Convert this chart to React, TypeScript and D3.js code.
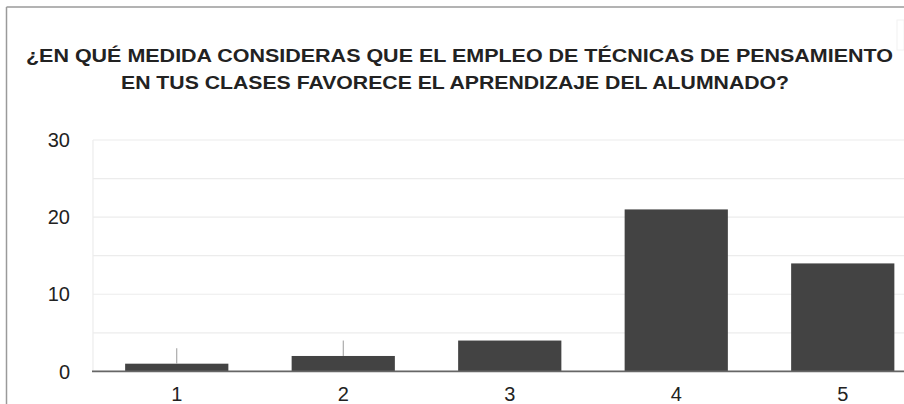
import React from "react";
import * as d3 from "d3";

const categories = ["1", "2", "3", "4", "5"];
const values = [1, 2, 4, 21, 14];
const errorTop: (number | null)[] = [3, 4, null, null, null];
const yTicks = [0, 10, 20, 30];
const gridTicks = [0, 5, 10, 15, 20, 25, 30];
const titleLines = [
  "¿EN QUÉ MEDIDA CONSIDERAS QUE EL EMPLEO DE TÉCNICAS DE PENSAMIENTO",
  "EN TUS CLASES FAVORECE EL APRENDIZAJE DEL ALUMNADO?",
];

export default function App() {
  const W = 904;
  const H = 404;
  const x = d3
    .scaleBand<string>()
    .domain(categories)
    .range([93.5, 926])
    .paddingInner(0.38)
    .paddingOuter(0.19);
  const y = d3.scaleLinear().domain([0, 30]).range([371.4, 140]);
  const font = "'Liberation Sans', Arial, Helvetica, sans-serif";

  return (
    <>
      <style>{`body{margin:0}`}</style>
      <svg width={W} height={H} style={{ display: "block", background: "#fff" }}>
        {/* frame */}
        <line x1={6.5} x2={W} y1={7} y2={7} stroke="#9a9a9a" strokeWidth={1.5} />
        <line x1={6.5} x2={6.5} y1={7} y2={H} stroke="#9a9a9a" strokeWidth={1.5} />
        <rect x={897} y={20} width={7} height={30} fill="none" stroke="#f2f2f2" strokeWidth={1} />

        {/* title */}
        <text
          x={26}
          y={61.7}
          textLength={867}
          lengthAdjust="spacingAndGlyphs"
          fontFamily={font}
          fontWeight="bold"
          fontSize={17.6}
          fill="#222"
        >
          {titleLines[0]}
        </text>
        <text
          x={121}
          y={89.3}
          textLength={668}
          lengthAdjust="spacingAndGlyphs"
          fontFamily={font}
          fontWeight="bold"
          fontSize={17.6}
          fill="#222"
        >
          {titleLines[1]}
        </text>

        {/* gridlines */}
        {gridTicks.map((t) => (
          <line
            key={"g" + t}
            x1={93}
            x2={W}
            y1={y(t)}
            y2={y(t)}
            stroke="#ececec"
            strokeWidth={1.2}
          />
        ))}
        <line x1={93} x2={93} y1={y(30)} y2={y(0)} stroke="#ececec" strokeWidth={1.2} />

        {/* y tick labels */}
        {yTicks.map((t) => (
          <text
            key={"y" + t}
            x={70}
            y={y(t)}
            dy="0.36em"
            textAnchor="end"
            fontFamily={font}
            fontSize={20}
            fill="#222"
          >
            {t}
          </text>
        ))}

        {/* bars */}
        {categories.map((c, i) => (
          <rect
            key={"b" + c}
            x={x(c)!}
            y={y(values[i])}
            width={x.bandwidth()}
            height={y(0) - y(values[i])}
            fill="#434343"
          />
        ))}

        {/* error whiskers */}
        {categories.map((c, i) =>
          errorTop[i] == null ? null : (
            <line
              key={"e" + c}
              x1={x(c)! + x.bandwidth() / 2}
              x2={x(c)! + x.bandwidth() / 2}
              y1={y(values[i])}
              y2={y(errorTop[i] as number)}
              stroke="#9a9a9a"
              strokeWidth={1}
            />
          )
        )}

        {/* baseline */}
        <line x1={92} x2={W} y1={y(0)} y2={y(0)} stroke="#666" strokeWidth={1.6} />

        {/* x labels */}
        {categories.map((c) => (
          <text
            key={"x" + c}
            x={x(c)! + x.bandwidth() / 2}
            y={401}
            textAnchor="middle"
            fontFamily={font}
            fontSize={20}
            fill="#222"
          >
            {c}
          </text>
        ))}
      </svg>
    </>
  );
}
